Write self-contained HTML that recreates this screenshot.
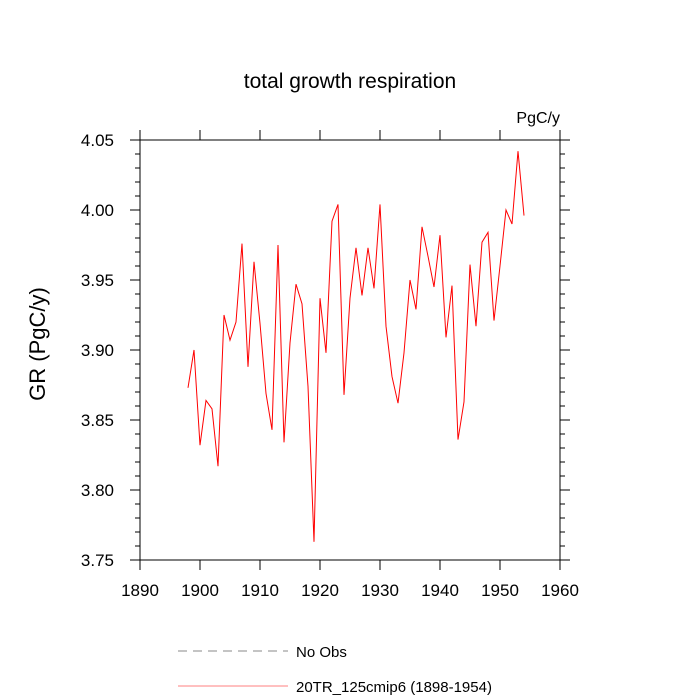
<!DOCTYPE html>
<html><head><meta charset="utf-8"><style>body{margin:0;background:#fff}svg{display:block}text{font-family:"Liberation Sans",sans-serif}</style></head>
<body>
<svg width="700" height="700" id="c">
<text x="350" y="88" text-anchor="middle" font-size="21">total growth respiration</text>
<text x="560" y="123" text-anchor="end" font-size="16">PgC/y</text>
<text transform="translate(45,344) rotate(-90)" text-anchor="middle" font-size="22">GR  (PgC/y)</text>
<rect x="140" y="140" width="420" height="420" fill="none" stroke="#000" stroke-width="1"/>
<g id="ticks"></g>
<polyline id="series" fill="none" stroke="#f00" stroke-width="1"/>
<line x1="178" y1="651" x2="288" y2="651" stroke="#888" stroke-dasharray="9,6"/>
<text x="296" y="657" font-size="15">No Obs</text>
<line x1="178" y1="686" x2="288" y2="686" stroke="#f00" stroke-width="0.5"/>
<text x="296" y="692" font-size="15">20TR_125cmip6 (1898-1954)</text>
</svg>
<script>
const years=[1898,1899,1900,1901,1902,1903,1904,1905,1906,1907,1908,1909,1910,1911,1912,1913,1914,1915,1916,1917,1918,1919,1920,1921,1922,1923,1924,1925,1926,1927,1928,1929,1930,1931,1932,1933,1934,1935,1936,1937,1938,1939,1940,1941,1942,1943,1944,1945,1946,1947,1948,1949,1950,1951,1952,1953,1954];
const values=[3.873,3.900,3.832,3.864,3.858,3.817,3.925,3.907,3.920,3.976,3.888,3.963,3.919,3.869,3.843,3.975,3.834,3.905,3.947,3.933,3.874,3.763,3.937,3.898,3.992,4.004,3.868,3.937,3.973,3.939,3.973,3.944,4.004,3.917,3.881,3.862,3.898,3.950,3.929,3.988,3.967,3.945,3.982,3.909,3.946,3.836,3.863,3.961,3.917,3.977,3.984,3.921,3.960,4.000,3.990,4.042,3.996];
const xTicks=[1890,1900,1910,1920,1930,1940,1950,1960];
const yTicks=["3.75","3.80","3.85","3.90","3.95","4.00","4.05"];
const X=v=>140+(v-1890)*6, Y=v=>140+(4.05-v)*1400;
const NS="http://www.w3.org/2000/svg", g=document.getElementById('ticks');
function ln(x1,y1,x2,y2,n){const l=document.createElementNS(NS,'line');l.setAttribute('x1',x1);l.setAttribute('y1',y1);l.setAttribute('x2',x2);l.setAttribute('y2',y2);l.setAttribute('stroke','#000');


g.appendChild(l);}
function tx(x,y,s,a,n){const t=document.createElementNS(NS,'text');t.setAttribute('x',x);t.setAttribute('y',y);t.setAttribute('text-anchor',a);t.setAttribute('font-size','17');t.textContent=s;


g.appendChild(t);}
xTicks.forEach(v=>{const x=X(v);ln(x,560,x,570,'x-tick');ln(x,140,x,130,'x-tick-top');tx(x,596,String(v),'middle','x-tick-label');});
yTicks.forEach(s=>{const y=Y(+s);ln(130,y,140,y,'y-tick');ln(560,y,570,y,'y-tick-right');tx(114,y+6,s,'end','y-tick-label');});
for(let i=0;i<=30;i++){if(i%5===0)continue;const y=Y(3.75+i*0.01);ln(135,y,140,y,'y-minor-tick');ln(560,y,565,y,'y-minor-tick-right');}
document.getElementById('series').setAttribute('points',years.map((yr,i)=>X(yr)+','+Y(values[i])).join(' '));
</script>
</body></html>
